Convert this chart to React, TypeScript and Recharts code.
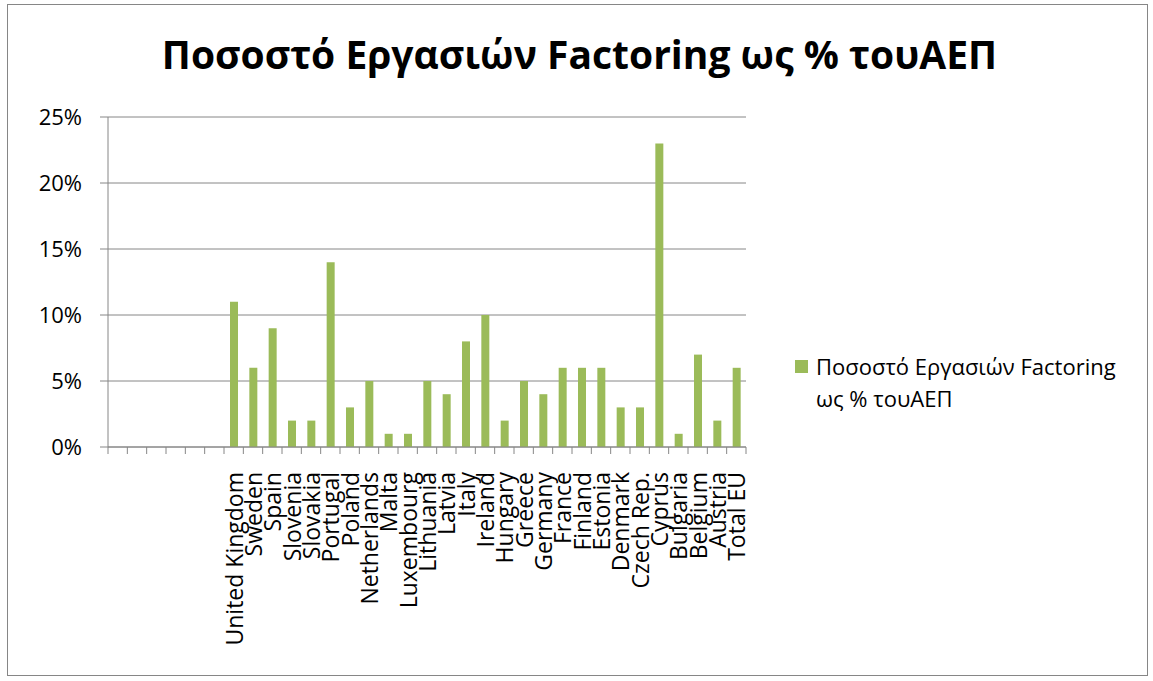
import { Bar, BarChart, CartesianGrid, XAxis, YAxis } from "recharts";

const countries = [
  "", "", "", "", "", "",
  "United Kingdom", "Sweden", "Spain", "Slovenia", "Slovakia", "Portugal",
  "Poland", "Netherlands", "Malta", "Luxembourg", "Lithuania", "Latvia",
  "Italy", "Ireland", "Hungary", "Greece", "Germany", "France", "Finland",
  "Estonia", "Denmark", "Czech Rep.", "Cyprus", "Bulgaria", "Belgium",
  "Austria", "Total EU",
];

const factoringShare: (number | null)[] = [
  null, null, null, null, null, null,
  0.11, 0.06, 0.09, 0.02, 0.02, 0.14,
  0.03, 0.05, 0.01, 0.01, 0.05, 0.04,
  0.08, 0.1, 0.02, 0.05, 0.04, 0.06, 0.06,
  0.06, 0.03, 0.03, 0.23, 0.01, 0.07,
  0.02, 0.06,
];

const yTicks = [0, 0.05, 0.1, 0.15, 0.2, 0.25];

const seriesName = "Ποσοστό Εργασιών Factoring ως % τουΑΕΠ";

const rows = countries.map((name, i) => ({ name, share: factoringShare[i] }));

const W = 1153;
const H = 681;
const PLOT_LEFT = 108;
const PLOT_RIGHT = 746;
const PLOT_TOP = 117;
const PLOT_BOTTOM = 447;
const HALF_BAND = (PLOT_RIGHT - PLOT_LEFT) / countries.length / 2;
const LABEL_Y = PLOT_BOTTOM + 25;

const GRAY = "#868686";
const GREEN = "#9BBB59";
const FONT = "'Open Sans', sans-serif";

function CountryTick(props: { x?: number; y?: number; index?: number; payload?: { value: string } }) {
  const { x, index, payload } = props;
  if (x == null || payload == null) return null;
  const last = index === countries.length - 1;
  return (
    <g>
      <line x1={x - HALF_BAND} x2={x - HALF_BAND} y1={PLOT_BOTTOM} y2={PLOT_BOTTOM + 7} stroke={GRAY} />
      {last && (
        <line x1={x + HALF_BAND} x2={x + HALF_BAND} y1={PLOT_BOTTOM} y2={PLOT_BOTTOM + 7} stroke={GRAY} />
      )}
      <text
        x={x}
        y={LABEL_Y}
        transform={`rotate(-90 ${x} ${LABEL_Y})`}
        textAnchor="end"
        dominantBaseline="central"
        fontSize={23}
        fontFamily={FONT}
        fill="#000"
      >
        {payload.value}
      </text>
    </g>
  );
}

export default function App() {
  return (
    <div style={{ position: "absolute", left: 0, top: 0, width: W, height: H, background: "#fff" }}>
      <div
        style={{
          position: "absolute",
          left: 7,
          top: 4,
          width: 1139,
          height: 670,
          border: `1px solid ${GRAY}`,
          pointerEvents: "none",
        }}
      />
      <div
        style={{
          position: "absolute",
          left: 0,
          top: 28,
          width: W + 6,
          textAlign: "center",
          fontFamily: FONT,
          fontWeight: 700,
          fontSize: 39,
          lineHeight: "52px",
          color: "#000",
        }}
      >
        {seriesName}
      </div>
      <BarChart
        width={W}
        height={H}
        data={rows}
        margin={{ top: PLOT_TOP, right: W - PLOT_RIGHT, bottom: 0, left: 0 }}
        barSize={8}
      >
        <CartesianGrid vertical={false} stroke={GRAY} strokeWidth={1} />
        <XAxis
          dataKey="name"
          interval={0}
          height={H - PLOT_BOTTOM}
          axisLine={{ stroke: GRAY }}
          tickLine={false}
          tick={<CountryTick />}
        />
        <YAxis
          width={PLOT_LEFT}
          domain={[0, 0.25]}
          ticks={yTicks}
          tickFormatter={(v: number) => `${Math.round(v * 100)}%`}
          axisLine={{ stroke: GRAY }}
          tickLine={{ stroke: GRAY }}
          tickSize={8}
          tickMargin={18}
          tick={{ fill: "#000", fontSize: 22, fontFamily: FONT }}
        />
        <Bar dataKey="share" name={seriesName} fill={GREEN} isAnimationActive={false} />
      </BarChart>
      <div
        style={{
          position: "absolute",
          left: 795,
          top: 350,
          width: 340,
          display: "flex",
          alignItems: "flex-start",
          fontFamily: FONT,
          fontSize: 22,
          lineHeight: "32px",
          color: "#000",
        }}
      >
        <span style={{ width: 13, height: 13, background: GREEN, marginTop: 10, marginRight: 8, flex: "none" }} />
        <span>{seriesName}</span>
      </div>
    </div>
  );
}
